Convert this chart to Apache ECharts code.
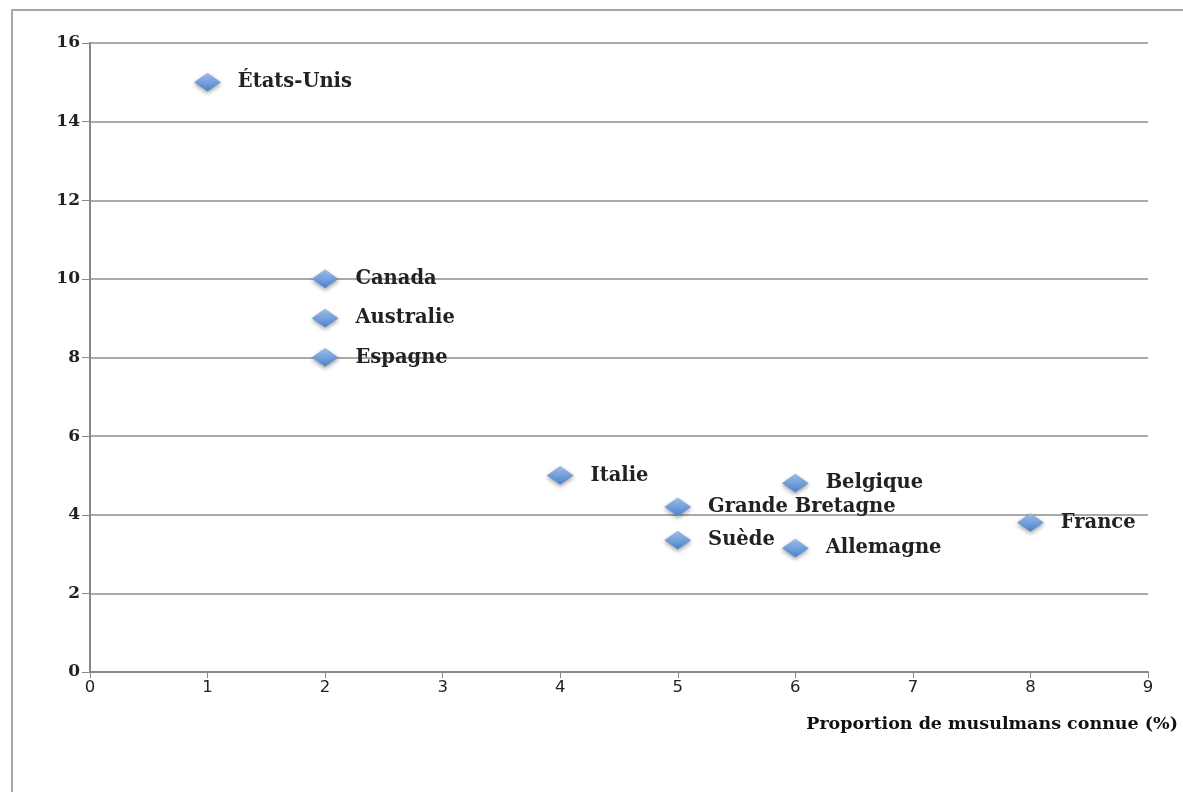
<!DOCTYPE html>
<html><head><meta charset="utf-8">
<script src="https://cdn.jsdelivr.net/npm/echarts@6/dist/echarts.min.js"></script>
<style>html,body{margin:0;padding:0;background:#fff}#c{width:1183px;height:792px}</style>
</head><body><div id="c"></div>
<script>
const countries = ['États-Unis','Canada','Australie','Espagne','Italie','Belgique','Grande Bretagne','Suède','Allemagne','France'];
const xValues = [1, 2, 2, 2, 4, 6, 5, 5, 6, 8];
const yValues = [15, 10, 9, 8, 5, 4.8, 4.2, 3.35, 3.15, 3.8];
const xTicks = [0,1,2,3,4,5,6,7,8,9];
const yTicks = [0,2,4,6,8,10,12,14,16];
const xAxisTitle = 'Proportion de musulmans connue (%)';

const chart = echarts.init(document.getElementById('c'));
const data = countries.map((n,i)=>({name:n, value:[xValues[i], yValues[i]]}));
chart.setOption({
  animation:false,
  backgroundColor:'#fff',
  graphic:[{type:'rect', shape:{x:12,y:10,width:1200,height:800}, style:{fill:'none', stroke:'#a6a6a6', lineWidth:2}, silent:true}],
  title:{text:xAxisTitle, right:5, top:715, padding:0, textStyle:{fontFamily:'DejaVu Serif', fontWeight:'bold', fontSize:17.5, color:'#111'}},
  grid:{left:90, right:35, top:43, bottom:120},
  xAxis:{type:'value', min:xTicks[0], max:xTicks[xTicks.length-1], interval:1,
    axisLine:{show:true, lineStyle:{color:'#888', width:2}},
    axisTick:{show:true, length:6, lineStyle:{color:'#888'}},
    splitLine:{show:false},
    axisLabel:{fontFamily:'DejaVu Sans', fontSize:16.5, color:'#222', margin:7}},
  yAxis:{type:'value', min:yTicks[0], max:yTicks[yTicks.length-1], interval:2,
    axisLine:{show:true, lineStyle:{color:'#888', width:2}},
    axisTick:{show:true, length:8, inside:false, lineStyle:{color:'#888'}},
    splitLine:{show:true, lineStyle:{color:'#8c8c8c', width:1.5}},
    axisLabel:{fontFamily:'DejaVu Serif', fontWeight:'bold', fontSize:17, color:'#222', margin:10}},
  series:[{type:'scatter', data:data, symbol:'diamond', symbolSize:[26,18],
    itemStyle:{opacity:1, color:new echarts.graphic.LinearGradient(0,0,0,1,[{offset:0,color:'#a2c4f0'},{offset:1,color:'#4a80cc'}]),
      borderColor:'#6a98d4', borderWidth:0.5, shadowBlur:4, shadowColor:'rgba(0,0,0,0.35)', shadowOffsetY:2},
    label:{show:true, position:'right', distance:17, formatter:p=>p.name,
      fontFamily:'DejaVu Serif', fontWeight:'bold', fontSize:19.5, color:'#222'}}]
});
</script></body></html>
